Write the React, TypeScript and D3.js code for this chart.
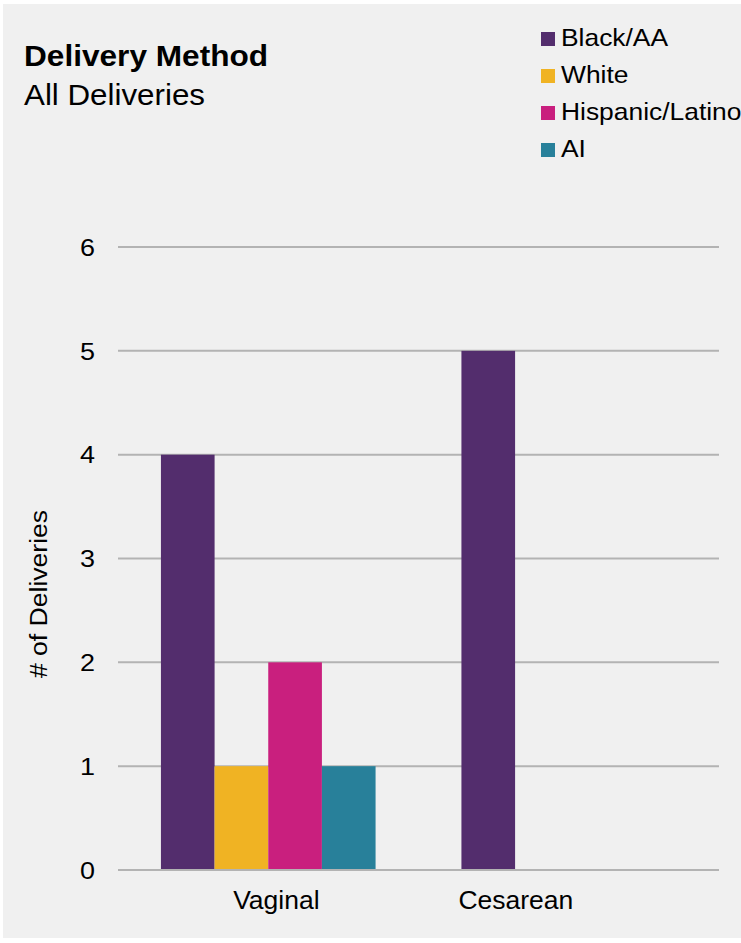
import React from "react";
import * as d3 from "d3";

const categories = ["Vaginal", "Cesarean"];
const seriesNames = ["Black/AA", "White", "Hispanic/Latino", "AI"];
const blackAA = [4, 5];
const white = [1, 0];
const hispanic = [2, 0];
const ai = [1, 0];
const yTicks = [0, 1, 2, 3, 4, 5, 6];
const colors = ["#532D6D", "#F0B323", "#C91F7E", "#28809A"];

const W = 741;
const H = 943;
const margin = { left: 118, right: 22, top: 247, bottom: 73 };
const FONT = "Liberation Sans, Arial, Helvetica, sans-serif";

function T(props: {
  x: number;
  y: number;
  size: number;
  sx?: number;
  anchor?: string;
  bold?: boolean;
  rotate?: number;
  children: React.ReactNode;
}) {
  const { x, y, size, sx = 1.08, anchor = "start", bold, rotate, children } = props;
  const tr = `translate(${x},${y})${rotate ? ` rotate(${rotate})` : ""} scale(${sx},1)`;
  return (
    <text transform={tr} fontSize={size} fontWeight={bold ? "bold" : "normal"} textAnchor={anchor} fill="#000">
      {children}
    </text>
  );
}

export default function App() {
  const seriesValues = [blackAA, white, hispanic, ai];
  const plotW = W - margin.left - margin.right;
  const x0 = d3.scaleBand<string>().domain(categories).range([margin.left, W - margin.right]).paddingInner(0).paddingOuter(0);
  const x1 = d3.scaleBand<string>().domain(seriesNames).range([0, x0.bandwidth()]).paddingInner(0).paddingOuter(0.8);
  const y = d3.scaleLinear().domain([0, 6]).range([H - margin.bottom, margin.top]);
  const labelX = d3
    .scalePoint<string>()
    .domain(categories)
    .range([margin.left + plotW * 0.2635, margin.left + plotW * 0.662]);

  return (
    <svg width={W} height={H} style={{ position: "absolute", left: 0, top: 0, display: "block" }} fontFamily={FONT}>
      <rect x={0} y={0} width={W} height={H} fill="#ffffff" />
      <rect x={3} y={4} width={W - 3} height={H - 9} fill="#f0f0f0" />
      <T x={24} y={66} size={29} sx={1.09} bold>Delivery Method</T>
      <T x={24} y={105} size={29} sx={1.08}>All Deliveries</T>

      {seriesNames.map((s, i) => (
        <g key={s} transform={`translate(541, ${32 + i * 37})`}>
          <rect x={0} y={0} width={14} height={14} fill={colors[i]} />
          <T x={20} y={13.5} size={24} sx={1.1}>{s}</T>
        </g>
      ))}

      {yTicks.map((t) => (
        <g key={t}>
          <line x1={margin.left} x2={W - margin.right} y1={y(t)} y2={y(t)} stroke="#b3b3b3" strokeWidth={2} />
          <T x={95} y={y(t) + 8.8} size={24.5} sx={1.1} anchor="end">{t}</T>
        </g>
      ))}

      {categories.map((c, ci) =>
        seriesNames.map((s, si) => {
          const v = seriesValues[si][ci];
          if (!v) return null;
          return (
            <rect
              key={c + s}
              x={(x0(c) ?? 0) + (x1(s) ?? 0)}
              y={y(v)}
              width={x1.bandwidth()}
              height={y(0) - y(v)}
              fill={colors[si]}
            />
          );
        })
      )}

      <line x1={margin.left} x2={W - margin.right} y1={y(0)} y2={y(0)} stroke="#b3b3b3" strokeWidth={2} />

      {categories.map((c) => (
        <T key={c} x={labelX(c) ?? 0} y={909} size={25} sx={1.06} anchor="middle">{c}</T>
      ))}

      <T x={47} y={594} size={23.5} sx={1.13} rotate={-90} anchor="middle"># of Deliveries</T>
    </svg>
  );
}
